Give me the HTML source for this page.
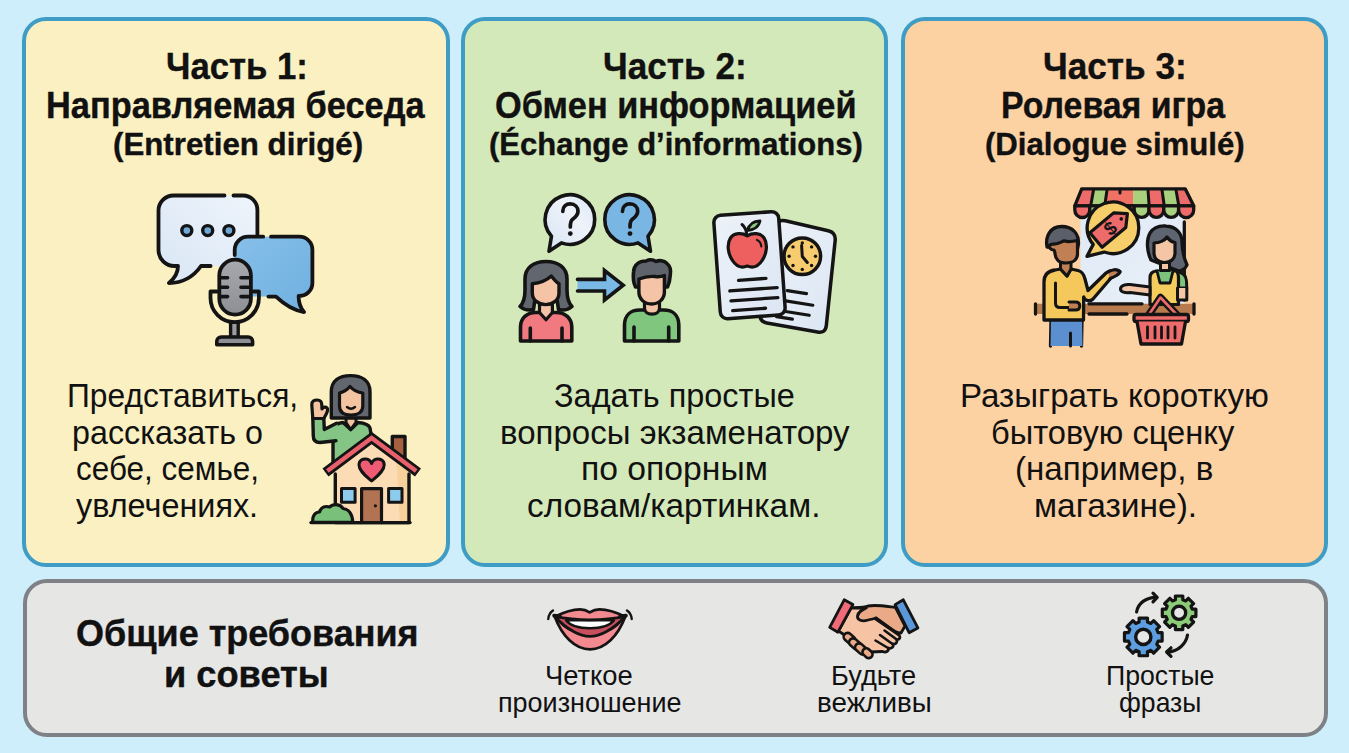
<!DOCTYPE html>
<html><head><meta charset="utf-8"><style>
html,body{margin:0;padding:0;}
body{width:1349px;height:753px;position:relative;overflow:hidden;background:#cdeefa;font-family:"Liberation Sans",sans-serif;color:#111;}
.card{position:absolute;box-sizing:border-box;border:4px solid #3f9cc4;border-radius:24px;}
.t{position:absolute;white-space:nowrap;line-height:1;transform-origin:0 0;}
.b{-webkit-text-stroke:0.4px #111;}
svg{position:absolute;overflow:visible;}
</style></head><body>
<div class="card" style="left:22px;top:17px;width:427.5px;height:549.5px;background:#faf0c1;"></div>
<div class="card" style="left:461px;top:17px;width:427px;height:549.5px;background:#d4e9b9;"></div>
<div class="card" style="left:901px;top:17px;width:427px;height:549.5px;background:#fdd2a3;"></div>
<div class="card" style="left:22.5px;top:578.5px;width:1305.5px;height:158.5px;background:#e6e6e5;border-color:#7e8185;"></div>
<div class="t b" style="left:165.75px;top:48.26px;font-size:37.5px;font-weight:700;transform:scaleX(0.9259)">Часть 1:</div>
<div class="t b" style="left:45.87px;top:87.46px;font-size:37.5px;font-weight:700;transform:scaleX(0.9161)">Направляемая беседа</div>
<div class="t b" style="left:112.52px;top:127.91px;font-size:32px;font-weight:700;transform:scaleX(0.9770)">(Entretien dirigé)</div>
<div class="t b" style="left:603.13px;top:48.26px;font-size:37.5px;font-weight:700;transform:scaleX(0.9374)">Часть 2:</div>
<div class="t b" style="left:494.88px;top:87.46px;font-size:37.5px;font-weight:700;transform:scaleX(0.9153)">Обмен информацией</div>
<div class="t b" style="left:488.83px;top:127.91px;font-size:32px;font-weight:700;transform:scaleX(0.9689)">(Échange d’informations)</div>
<div class="t b" style="left:1043.12px;top:48.26px;font-size:37.5px;font-weight:700;transform:scaleX(0.9381)">Часть 3:</div>
<div class="t b" style="left:1000.90px;top:87.46px;font-size:37.5px;font-weight:700;transform:scaleX(0.9021)">Ролевая игра</div>
<div class="t b" style="left:985.03px;top:127.91px;font-size:32px;font-weight:700;transform:scaleX(0.9734)">(Dialogue simulé)</div>
<div class="t" style="left:66.55px;top:380.29px;font-size:32.5px;font-weight:400;transform:scaleX(0.9764)">Представиться,</div>
<div class="t" style="left:71.81px;top:416.69px;font-size:32.5px;font-weight:400;transform:scaleX(0.9926)">рассказать о</div>
<div class="t" style="left:75.53px;top:453.49px;font-size:32.5px;font-weight:400;transform:scaleX(0.9682)">себе, семье,</div>
<div class="t" style="left:75.50px;top:490.29px;font-size:32.5px;font-weight:400;transform:scaleX(0.9967)">увлечениях.</div>
<div class="t" style="left:554.00px;top:380.29px;font-size:32.5px;font-weight:400;transform:scaleX(0.9982)">Задать простые</div>
<div class="t" style="left:499.67px;top:416.69px;font-size:32.5px;font-weight:400;transform:scaleX(1.0168)">вопросы экзаменатору</div>
<div class="t" style="left:580.53px;top:453.49px;font-size:32.5px;font-weight:400;transform:scaleX(1.0371)">по опорным</div>
<div class="t" style="left:526.67px;top:490.29px;font-size:32.5px;font-weight:400;transform:scaleX(1.0268)">словам/картинкам.</div>
<div class="t" style="left:960.46px;top:380.29px;font-size:32.5px;font-weight:400;transform:scaleX(1.0199)">Разыграть короткую</div>
<div class="t" style="left:991.00px;top:416.69px;font-size:32.5px;font-weight:400;transform:scaleX(1.0046)">бытовую сценку</div>
<div class="t" style="left:1014.96px;top:453.49px;font-size:32.5px;font-weight:400;transform:scaleX(1.0197)">(например, в</div>
<div class="t" style="left:1033.54px;top:490.29px;font-size:32.5px;font-weight:400;transform:scaleX(1.0313)">магазине).</div>
<div class="t b" style="left:75.92px;top:615.85px;font-size:36.8px;font-weight:700;transform:scaleX(0.9777)">Общие требования</div>
<div class="t b" style="left:163.63px;top:656.85px;font-size:36.8px;font-weight:700;transform:scaleX(0.9845)">и советы</div>
<div class="t" style="left:545.31px;top:661.52px;font-size:27.5px;font-weight:400;transform:scaleX(0.9949)">Четкое</div>
<div class="t" style="left:498.02px;top:688.92px;font-size:27.5px;font-weight:400;transform:scaleX(0.9804)">произношение</div>
<div class="t" style="left:830.72px;top:661.52px;font-size:27.5px;font-weight:400;transform:scaleX(0.9882)">Будьте</div>
<div class="t" style="left:816.99px;top:688.92px;font-size:27.5px;font-weight:400;transform:scaleX(1.0118)">вежливы</div>
<div class="t" style="left:1105.86px;top:661.52px;font-size:27.5px;font-weight:400;transform:scaleX(0.9702)">Простые</div>
<div class="t" style="left:1119.33px;top:688.92px;font-size:27.5px;font-weight:400;transform:scaleX(0.9659)">фразы</div>
<svg width="1349" height="753" viewBox="0 0 1349 753" style="left:0;top:0"><g id="ic1" stroke="#141414" stroke-width="3.8" stroke-linecap="round" stroke-linejoin="round">
 <defs>
  <linearGradient id="gl1" x1="0" y1="1" x2="1" y2="0"><stop offset="0" stop-color="#d9e6f5"/><stop offset="1" stop-color="#eef4fb"/></linearGradient>
  <linearGradient id="gr1" x1="0" y1="0" x2="1" y2="1"><stop offset="0" stop-color="#86bfe9"/><stop offset="1" stop-color="#6fb0e0"/></linearGradient>
  <linearGradient id="gm1" x1="0" y1="0" x2="0" y2="1"><stop offset="0" stop-color="#a7a9ae"/><stop offset="1" stop-color="#8d8f95"/></linearGradient>
 </defs>
 <!-- left bubble -->
 <path d="M224.5 195.5 H173.5 A15 15 0 0 0 158.5 210.5 V250 A16 16 0 0 0 174.5 266 H178 C178 272 175 278 169 283 C184 283 194 276 201 266 H211 L257.4 266 V210 A14.4 14.4 0 0 0 243 195.5 H233.5" fill="url(#gl1)" stroke="none"/>
 <path d="M224.5 195.5 H173.5 A15 15 0 0 0 158.5 210.5 V250 A16 16 0 0 0 174.5 266 H178 C178 272 175 278 169 283 C184 283 194 276 201 266 H210.6" fill="none"/>
 <path d="M233.5 195.5 H243 A14.4 14.4 0 0 1 257.4 210 V236" fill="none"/>
 <!-- dots -->
 <circle cx="186.8" cy="230.6" r="5" fill="#6fa8d8" stroke-width="3.4"/>
 <circle cx="207.7" cy="230.6" r="5" fill="#6fa8d8" stroke-width="3.4"/>
 <circle cx="228.9" cy="230.6" r="5" fill="#6fa8d8" stroke-width="3.4"/>
 <!-- right bubble -->
 <path d="M248 236.7 H299.4 A13 13 0 0 1 312.4 249.7 V283 A13 13 0 0 1 299.4 296 H298.6 C298.6 302 300.5 308 304 312 C297 311 286 306 276 296.6 H248 A13.3 13.3 0 0 1 234.7 283.3 V250 A13.3 13.3 0 0 1 248 236.7 Z" fill="url(#gr1)" stroke="none"/>
 <path d="M263.2 236.7 H248 A13.3 13.3 0 0 0 234.7 250 V255" fill="none"/>
 <path d="M271 236.7 H299.4 A13 13 0 0 1 312.4 249.7 V283 A13 13 0 0 1 299.4 296 H298.6 C298.6 302 300.5 308 304 312 C297 311 286 306 276 296.6 H268.4" fill="none"/>
 <!-- mic holder -->
 <path d="M217 291.5 H210.5 V298 A24.2 24.2 0 0 0 258.9 298 V291.5 H253.5" fill="none"/>
 <!-- stem -->
 <rect x="230.6" y="322.4" width="7.6" height="15" fill="#9a9ca1" stroke-width="3.4"/>
 <!-- base -->
 <path d="M216.8 344.8 V341.5 A4.5 4.5 0 0 1 221.3 337 H248.1 A4.5 4.5 0 0 1 252.6 341.5 V344.8 Z" fill="#8d8f94" stroke-width="3.6"/>
 <!-- head -->
 <rect x="219.3" y="259.7" width="31.6" height="54.9" rx="15.8" fill="url(#gm1)"/>
 <path d="M219.8 277.7 H227.6 M219.8 287.2 H227.6 M219.8 296.6 H227.6 M241 277.7 H250.2 M241 287.2 H250.2 M241 296.6 H250.2" stroke-width="3.6"/>
</g>

<g id="ic1b" stroke="#141414" stroke-width="3.4" stroke-linecap="round" stroke-linejoin="round">
 <!-- woman body (green) -->
 <path d="M333 462 V432 C333 426 337 423 343 422.5 L350.7 429.6 L358 422.5 C364 423 369 425 370 428 L372 440 L335 468 Z" fill="#84c585"/>
 <!-- arm -->
 <path d="M312.8 418 H323.8 L324.3 429.5 L337.5 422.8 L339 441 L320 442.5 C315.5 442.5 313.3 440 313.3 436 Z" fill="#84c585" stroke="none"/>
 <path d="M323.8 418 L324.3 429.5 L336.5 423.3 M336 440.7 L320 442.5 C315.5 442.5 313.3 440 313.3 436 L312.8 418" fill="none"/>
 <!-- hand -->
 <path d="M312.8 418.5 L311.8 405 C311.5 401 314.2 400 317.2 400 C320.2 400 321.8 402 321.8 405 L322 408.8 C323.5 406.5 327 406.5 327.6 409.2 C328 411.5 326 414.5 323.8 418.5 Z" fill="#f4c3a2" stroke-width="3.2"/>
 <!-- neck -->
 <path d="M346 413 V422.5 L350.7 429.6 L356 422.5 V413 Z" fill="#f4c3a2" stroke-width="3"/>
 <!-- hair -->
 <path d="M331.3 418 V392 C331.3 381 339 375.6 350.5 375.6 C362 375.6 370 381 370 392 V418 Z" fill="#62666e"/>
 <!-- face -->
 <path d="M339.5 393 C343.5 392 347 390 350 386.5 C353.5 390.5 358 392.5 362.8 393 V406 C362.8 412 358 415 351 415 C344 415 339.5 412 339.5 406 Z" fill="#f4c3a2" stroke-width="3.2"/>
 <path d="M347 407 Q351 410.5 355 407" fill="none" stroke-width="2.4"/>
 <!-- house walls -->
 <path d="M335 472 L371.6 442 L408.5 472 V522.6 H335 Z" fill="#fbdcb4" stroke="none"/>
 <path d="M396 452 L408.5 462 V522.6 H400 Z" fill="#f6cd95" stroke="none" opacity="0.8"/>
 <path d="M335.3 474 V522.6 H409 V474" fill="none"/>
 <!-- chimney -->
 <path d="M392.3 453 V436.5 H405 V462" fill="#a6603f"/>
 <!-- roof -->
 <path d="M325.5 472.5 L371.6 438 L418 472.5" fill="none" stroke-width="10" stroke-linecap="butt" stroke-linejoin="miter"/>
 <path d="M327.3 471.1 L371.6 438 L416.2 471.1" fill="none" stroke="#e8606c" stroke-width="4.4" stroke-linecap="butt" stroke-linejoin="miter"/>
 <!-- heart -->
 <path d="M371.6 481 C366 476 359 471 359 465 C359 460 363 458.8 366 459 C369 459.2 370.6 461 371.6 463.5 C372.6 461 374.2 459.2 377.2 459 C380.2 458.8 384.2 460 384.2 465 C384.2 471 377.2 476 371.6 481 Z" fill="#ee5b72" stroke-width="3"/>
 <!-- windows -->
 <rect x="341.5" y="488.6" width="13.6" height="13.6" fill="#8ccbee" stroke-width="3"/>
 <rect x="388.6" y="488.6" width="13.4" height="13.6" fill="#8ccbee" stroke-width="3"/>
 <!-- door -->
 <path d="M361.6 522.6 V488.6 H381.5 V522.6" fill="#b27352" stroke-width="3.2"/>
 <circle cx="375.4" cy="505.8" r="1.6" fill="#141414" stroke="none"/>
 <!-- bush -->
 <path d="M312.8 522.4 C312 516 315 512 319.5 512 C321 507.5 325 505.6 329.5 507 C333 503.5 340 503.5 343 508.5 C348.5 509 352.5 514 352.8 522.4 Z" fill="#79c17b" stroke-width="3.2"/>
 <path d="M311 522.6 H410" fill="none" stroke-width="3.4"/>
</g>

<g id="ic2" stroke="#141414" stroke-width="3.6" stroke-linecap="round" stroke-linejoin="round">
 <defs>
  <linearGradient id="gb1" x1="0" y1="1" x2="1" y2="0"><stop offset="0" stop-color="#d5e3f4"/><stop offset="0.6" stop-color="#eef3fa"/><stop offset="1" stop-color="#dde8f5"/></linearGradient>
 </defs>
 <!-- bubble 1 -->
 <path d="M551.47 236.19 A24.8 24.8 0 1 1 561.42 242.90 L549 251.2 Z" fill="url(#gb1)"/>
 <!-- bubble 2 -->
 <path d="M638.08 242.90 A24.8 24.8 0 1 1 648.03 236.19 L650.5 251.2 Z" fill="#79b6e3"/>
 <!-- question marks -->
 <path d="M562.8 211.3 C562.8 206.5 566 203.9 570.3 203.9 C574.8 203.9 578 207 578 211.3 C578 215.5 575 217.5 572.6 219.3 C570.8 220.7 570.3 222.5 570.3 227" fill="none" stroke-width="3.7"/>
 <circle cx="570.3" cy="233.6" r="2.4" fill="#141414" stroke="none"/>
 <path d="M622.5 211.3 C622.5 206.5 625.7 203.9 630 203.9 C634.5 203.9 637.7 207 637.7 211.3 C637.7 215.5 634.7 217.5 632.3 219.3 C630.5 220.7 630 222.5 630 227" fill="none" stroke-width="3.7"/>
 <circle cx="630" cy="233.6" r="2.4" fill="#141414" stroke="none"/>
 <!-- woman -->
 <path d="M520 306.5 C523.5 303 525 297 525 290 V279 C525 267.5 534 261.5 546 261.5 C558 261.5 567 267.5 567 279 V290 C567 297 568.5 303 572 306.5 C568.5 309.5 563 310.5 558.5 309.5 L557 299 H535 L533.5 309.5 C529 310.5 523.5 309.5 520 306.5 Z" fill="#62666f"/>
 <path d="M520.5 341 V327 C520.5 318 527 312.5 536 312.5 H556 C565 312.5 571.8 318 571.8 327 V341 Z" fill="#f07a80"/>
 <path d="M530.3 328 V341 M562 328 V341" fill="none"/>
 <path d="M539.5 304 V312.5 L546 319.8 L552.4 312.5 V304 Z" fill="#f4c2a6" stroke-width="3.2"/>
 <path d="M532.3 283.7 C540 283 547 280 551.3 276 C554 279.5 556 282 559 283.7 V293 C559 300 553 304.6 545.7 304.6 C538.4 304.6 532.3 300 532.3 293 Z" fill="#f5c3a6" stroke-width="3.4"/>
 <!-- arrow -->
 <path d="M577.5 279.4 H604.5 V270.5 L623.2 285.2 L604.5 300 V291 H577.5 Z" fill="#7ab8e5" stroke="none"/>
 <path d="M577.5 279.4 H604.5 V270.5 L623.2 285.2 L604.5 300 V291 H577.5" fill="none" stroke-linejoin="miter"/>
 <!-- man -->
 <path d="M624.5 341 V325 C624.5 315.5 630.5 310 640 310 H663.5 C673 310 678.8 315.5 678.8 325 V341 Z" fill="#80c67f"/>
 <path d="M634 327 V341 M668.7 327 V341" fill="none"/>
 <path d="M644.5 302 V308 C644.5 312 647.5 314.2 652 314.2 C656.5 314.2 659.5 312 659.5 308 V302 Z" fill="#f4c2a6" stroke-width="3.2"/>
 <path d="M635.5 287 C633.5 283 633 277 633.5 272 C634 265 639 261 646 261 C649 259.5 653 259.5 656 261.5 C659 260 664 260.5 667 263.5 C670.5 266.5 671 271 670.3 275 C670 280 669 284 667.5 287 Z" fill="#5f636c"/>
 <path d="M638.9 279 C644 277 650 276 655 276.5 C659 277 662 276.5 664.4 275.5 V292 C664.4 299 659 304 651.6 304 C644.3 304 638.9 299 638.9 292 Z" fill="#f5c3a6" stroke-width="3.4"/>
</g>

<g id="ic2b" stroke="#141414" stroke-width="3.5" stroke-linecap="round" stroke-linejoin="round">
 <defs>
  <linearGradient id="gcard" x1="0" y1="0" x2="1" y2="1"><stop offset="0" stop-color="#edf2f9"/><stop offset="1" stop-color="#dbe6f3"/></linearGradient>
 </defs>
 <!-- back card -->
 <path d="M785.30 220.80 L828.20 230.70 Q836.00 232.50 835.17 240.46 L826.33 325.54 Q825.50 333.50 817.63 332.08 L766.87 322.92 Q759.00 321.50 760.42 313.63 L776.08 226.87 Q777.50 219.00 785.30 220.80 Z" fill="url(#gcard)"/>
 <g transform="rotate(9 797.6 277.2)"><path d="M789.5 292 H809 M789.5 302.5 H817 M789.5 313 H815 M783 319.5 H799" fill="none" stroke-width="3.2"/></g>
 <!-- clock -->
 <circle cx="802.3" cy="256.2" r="18.3" fill="#f6cc6e"/>
 <g fill="#141414" stroke="none"><circle cx="802.3" cy="243.0" r="1.7"/><circle cx="811.6" cy="246.9" r="1.7"/><circle cx="815.5" cy="256.2" r="1.7"/><circle cx="811.6" cy="265.5" r="1.7"/><circle cx="802.3" cy="269.4" r="1.7"/><circle cx="793.0" cy="265.5" r="1.7"/><circle cx="789.1" cy="256.2" r="1.7"/><circle cx="793.0" cy="246.9" r="1.7"/></g>
 <path d="M801.6 245.5 L802.3 256.5 L807.3 262.5" fill="none" stroke-width="3"/>
 <!-- front card -->
 <g transform="rotate(-4.1 749.5 265.2)">
  <rect x="717" y="213.4" width="65" height="103.6" rx="7" fill="url(#gcard)"/>
  <path d="M737.5 279.5 H765 M728 289.5 H775.5 M728.5 299.5 H775.5 M729.5 309.3 H762.5" fill="none" stroke-width="3.3"/>
 </g>
 <!-- apple -->
 <path d="M747.3 235.8 C742 232.5 734 232.8 730.5 238 C726.5 244 728 254 732.5 260.5 C736 266 741 268.5 747.3 266 C753.6 268.5 758.6 266 762.1 260.5 C766.6 254 768.1 244 764.1 238 C760.6 232.8 752.6 232.5 747.3 235.8 Z" fill="#ee5f5f" stroke-width="3.2"/>
 <path d="M757 240 C759.5 241 761 243.5 761.3 246.5" fill="none" stroke-width="2.2"/>
 <path d="M746.8 235 C746.5 230 745 227 742 224.5" fill="none" stroke-width="3"/>
 <path d="M747.3 230.5 C749 224.5 754 221 760 220.8 C759 226.5 754 230.2 747.3 230.5 Z" fill="#8cc77e" stroke-width="2.8"/>
</g>

<g id="ic3" stroke="#141414" stroke-width="3.3" stroke-linecap="round" stroke-linejoin="round">
 <defs>
  <linearGradient id="gwin" x1="0" y1="0" x2="1" y2="1"><stop offset="0" stop-color="#dfeaf6"/><stop offset="1" stop-color="#e9f0f8"/></linearGradient>
  <clipPath id="awclip"><path d="M1081.7 188.8 H1185.2 L1193.7 205.8 H1074.8 Z"/></clipPath>
 </defs>
 <!-- shop window -->
 <rect x="1080.5" y="210" width="104" height="94" fill="url(#gwin)" stroke="none"/>
 <path d="M1184.3 222 V262 M1184.3 268 V300" fill="none"/>
 <!-- awning stripes -->
 <g clip-path="url(#awclip)" stroke="none">
  <path d="M1070 186 H1093.5 L1089 208 H1070 Z" fill="#ee6b6b"/>
  <path d="M1093.5 186 H1107 L1104 208 H1089 Z" fill="#a9d07c"/>
  <path d="M1107 186 H1133.5 L1133 208 H1104 Z" fill="#f07265"/>
  <path d="M1133.5 186 H1148 L1149 208 H1133 Z" fill="#a9d07c"/>
  <path d="M1148 186 H1162 L1164 208 H1149 Z" fill="#ee6b6b"/>
  <path d="M1162 186 H1176 L1179 208 H1164 Z" fill="#a9d07c"/>
  <path d="M1176 186 H1200 V208 H1179 Z" fill="#ee6b6b"/>
 </g>
 <path d="M1093.5 190 L1091 204 M1107 190 L1105 204 M1120 190 V193 M1148 190 L1149 204 M1162 190 L1164 204 M1176 190 L1178.5 204" fill="none" stroke-width="3"/>
 <path d="M1074.8 205.8 L1081.7 188.8 H1185.2 L1193.7 205.8 Z" fill="none"/>
 <!-- scallops -->
 <g>
  <path d="M1074.8 205.8 H1089.8 V210 A7.5 7.5 0 0 1 1074.8 210 Z" fill="#ee6b6b"/>
  <path d="M1089.8 205.8 H1104.6 V210 A7.4 7.4 0 0 1 1089.8 210 Z" fill="#a9d07c"/>
  <path d="M1104.6 205.8 H1119.4 V210 A7.4 7.4 0 0 1 1104.6 210 Z" fill="#ee6b6b"/>
  <path d="M1119.4 205.8 H1134.2 V210 A7.4 7.4 0 0 1 1119.4 210 Z" fill="#ee6b6b"/>
  <path d="M1134.2 205.8 H1149 V210 A7.4 7.4 0 0 1 1134.2 210 Z" fill="#a9d07c"/>
  <path d="M1149 205.8 H1163.8 V210 A7.4 7.4 0 0 1 1149 210 Z" fill="#ee6b6b"/>
  <path d="M1163.8 205.8 H1178.6 V210 A7.4 7.4 0 0 1 1163.8 210 Z" fill="#a9d07c"/>
  <path d="M1178.6 205.8 H1193.7 V210 A7.5 7.5 0 0 1 1178.6 210 Z" fill="#ee6b6b"/>
 </g>
 <!-- speech bubble -->
 <path d="M1093.24 244.38 A25.8 25.8 0 1 1 1104.18 252.04 L1087 256.3 Z" fill="#f7cf6a"/>
 <!-- price tag -->
 <g transform="translate(1.3 -2.8) rotate(-40 1110 230)">
  <path d="M1090 220.5 H1121 L1131 230 L1121 239.5 H1090 Z" fill="#ee6b6b" stroke-width="3.2"/>
  <circle cx="1123" cy="230" r="1.8" fill="#141414" stroke="none"/>
 </g>
 <text x="1109.5" y="237.5" font-family="Liberation Sans" font-weight="700" font-size="19" fill="#141414" stroke="none" text-anchor="middle" transform="translate(1.3 -2.8) rotate(-40 1109.5 231.5)">$</text>
 <!-- counter -->
 <path d="M1035.5 303.8 H1194 V314 H1035.5 Z" fill="#b87b4e" stroke="none"/>
 <path d="M1035.5 303.8 V314 M1089 303.8 H1142 M1089 314 H1127 M1194 303.8 V314" fill="none"/>
 <!-- man -->
 <path d="M1051 321 L1050.5 346 M1082 321 L1081.5 346" fill="none"/>
 <path d="M1051 320 H1082 L1082.5 346 H1050.5 Z" fill="#5b8fd0" stroke="none"/>
 <path d="M1070.5 333 V346" fill="none" stroke-width="3"/>
 <path d="M1044 320 V282 C1044 275 1048 271 1055 270 L1060.5 269 L1067 276 L1071 269 L1078 270.5 C1082 271.5 1084 274.5 1085 279 L1088 290.5 L1106 273 C1110 269.5 1118 269 1120 272 C1119 275 1114 276 1111 278 L1093 299 C1090 302 1085 301 1083.7 297 L1083.5 320 Z" fill="#f5c85c"/>
 <path d="M1055.5 283 V303 C1055.5 306 1057 307.5 1060 307.5 H1070" fill="none" stroke-width="3"/>
 <path d="M1069 302 H1075.5 C1078.5 302 1079.8 304 1079.8 306 C1079.8 308 1078.5 310 1075.5 310 H1069" fill="#c17f56" stroke-width="3"/>
 <path d="M1108 272 C1112 269.5 1117 269 1120 271.5 C1118.5 275 1114 277 1110 278.5" fill="#c17f56" stroke-width="3"/>
 <path d="M1060.5 262 V269 L1067 276 L1071 269 V262 Z" fill="#c17f56" stroke-width="3"/>
 <path d="M1047 247 C1045 237 1050 226.5 1061.5 226.5 C1073 226.5 1079 234 1078.5 244 L1077.5 249 Z" fill="#5a5f6a"/>
 <path d="M1053 244 C1058 244.5 1061 242 1064 240.8 C1068 242.5 1073 241.5 1077.5 240.5 V254 C1077.5 259.5 1073 263 1066 263 C1059 263 1055 259 1055 253 L1054 250 C1050.5 250 1049 247.5 1049.5 245 Z" fill="#c17f56" stroke-width="3.2"/>
 <!-- woman -->
 <path d="M1151 260 C1147 252 1146 240 1150 233 C1154 227 1160 225.5 1166 226 C1176 226.5 1182 233 1182 242 C1182 252 1184 258 1187 265 C1185 270 1180 272 1176 270 Z" fill="#5e6470"/>
 <path d="M1176.5 272 C1182 272 1186 275 1186.5 281 L1186.8 288 H1176.5 Z" fill="#7cc47c" stroke-width="3"/>
 <path d="M1150 304.5 V278 C1150 274 1152 271.5 1156 271 H1176 C1177.5 272 1178.5 274 1178.5 278 V304.5 Z" fill="#f5cc5e" stroke-width="3.2"/>
 <path d="M1157 271 L1160 283 H1170 L1173 271" fill="#7cc47c" stroke-width="2.8"/>
 <path d="M1160.5 262 V270.5 H1169.5 V262 Z" fill="#f5c6a6" stroke-width="3"/>
 <path d="M1154 243 C1160 243 1165 240 1167 237 C1169 240 1172 242 1175 242.5 V253 C1175 259 1170.5 262.5 1164.5 262.5 C1158.5 262.5 1154 259 1154 253 Z" fill="#f5c6a6" stroke-width="3.2"/>
 <path d="M1150 287 L1130 284.5 C1125 284 1120.5 286 1120.5 289 C1120.5 292 1125 293 1130 292.5 L1150 295 Z" fill="#f5c6a6" stroke-width="3"/>
 <path d="M1177.5 288 V300 H1186.8 V288" fill="#f5c6a6" stroke-width="3"/>
 <!-- basket -->
 <path d="M1148 316 L1160.5 297.5 L1178 316" fill="none" stroke="#141414" stroke-width="7.5" stroke-linejoin="round"/>
 <path d="M1148 316 L1160.5 297.5 L1178 316" fill="none" stroke="#ee6b6b" stroke-width="2.6" stroke-linejoin="round"/>
 <rect x="1134" y="314.5" width="54.5" height="7" rx="2" fill="#ee6b6b"/>
 <path d="M1137 321.5 L1141 344 H1181.5 L1185.5 321.5" fill="#ee6b6b"/>
 <path d="M1147.5 327 V338 M1155 327 V338 M1161.5 327 V338 M1168 327 V338 M1175 327 V338" fill="none" stroke-width="2.8"/>
</g>

<g id="lips" stroke="#141414" stroke-width="2.7" stroke-linecap="round" stroke-linejoin="round">
 <path d="M554.8 616.7 C562 636 575 649.3 590 649.3 C605 649.3 618 636 625.2 616.7 Z" fill="#f28a8f"/>
 <path d="M554.8 616.7 C566 628 577 636.3 590 636.3 C603 636.3 614 628 625.2 616.7 Z" fill="#c8505e"/>
 <path d="M556 617.5 C561 624 566 628.5 572 630.5" fill="none" stroke-width="2.2"/>
 <path d="M608 630.5 C614 628.5 619 624 624 617.5" fill="none" stroke-width="2.2"/>
 <path d="M566 620.3 C570.5 626 579 628.3 590 628.3 C601 628.3 609.5 626 614 620.3 Z" fill="#ffffff" stroke-width="2.4"/>
 <path d="M554.8 616.7 C564 612 572 609.3 580 609.3 C584 609.3 587 610.5 589.7 612.3 C592.5 610.5 595.5 609.3 599.5 609.3 C607.5 609.3 616 612 625.2 616.7 C613 619 602 619.8 590 619.8 C578 619.8 567 619 554.8 616.7 Z" fill="#f28a8f"/>
 <path d="M554 615.5 L560 616.3" fill="none" stroke-width="3.6"/>
 <path d="M620 616.3 L626 615.5" fill="none" stroke-width="3.6"/>
 <path d="M553 610.5 C550 612.5 548.5 615.5 548.3 619" fill="none" stroke-width="2.4"/>
 <path d="M627 610.5 C630 612.5 631.5 615.5 631.7 619" fill="none" stroke-width="2.4"/>
</g>
<g id="hand" stroke="#141414" stroke-width="2.8" stroke-linecap="round" stroke-linejoin="round">
 <!-- back hand (right person, darker skin) -->
 <path d="M851 608 C858 607.5 864 607.5 868 606 C876 604.5 884 606 895.5 607.5 L905 626 L901 633 C896 633 893 631 888 627 L876 618 C872 620 866 622 861 621 C857 620 856 617 858.5 614 Z" fill="#eaaa88"/>
 <!-- front hand (left person) -->
 <path d="M851 608 L866.5 607.8 C862 610 858 612 857.5 616 C857 620 862 622 868 620 L875 618.5 L899 635 C901 637.5 899.5 640 896.5 639.5 C898 642 896 644.5 893 644 C894 647 891.5 649 888.5 648 C889 651 886 653 882.5 651.5 L870 652 C862 650 852 641 847.5 637 L838.5 631 Z" fill="#f6c4a5"/>
 <path d="M876 618 L899 634.5" fill="none"/>
 <path d="M884.5 630.5 L896 639 M880 635 L892.5 644 M875.5 640.5 L888 648" fill="none" stroke-width="2.6"/>
 <!-- fingers bottom-left -->
 <g fill="#eaaa88" stroke-width="2.6">
  <rect x="-6.5" y="-4" width="13" height="8" rx="4" transform="translate(849.5 638.5) rotate(42)"/>
  <rect x="-6.5" y="-4" width="13" height="8" rx="4" transform="translate(855 644) rotate(42)"/>
  <rect x="-6.5" y="-4" width="13" height="8" rx="4" transform="translate(861 649) rotate(42)"/>
  <rect x="-5.5" y="-3.8" width="11" height="7.6" rx="3.8" transform="translate(867.5 653.2) rotate(42)"/>
 </g>
 <!-- cuffs -->
 <path d="M844.2 599.8 L852.9 604.6 L837.9 632.2 L829.7 627.4 Z" fill="#f06a78"/>
 <path d="M903.3 599.8 L917.9 627.9 L909.1 632.7 L895.1 604.6 Z" fill="#5a97d8"/>
</g>
<g id="gears" stroke="#141414" stroke-width="3.2" stroke-linecap="round" stroke-linejoin="round">
 <path d="M1175.41 599.71 L1175.35 596.01 L1182.85 596.01 L1182.79 599.71 L1185.75 600.93 L1188.32 598.28 L1193.62 603.58 L1190.97 606.15 L1192.19 609.11 L1195.89 609.05 L1195.89 616.55 L1192.19 616.49 L1190.97 619.45 L1193.62 622.02 L1188.32 627.32 L1185.75 624.67 L1182.79 625.89 L1182.85 629.59 L1175.35 629.59 L1175.41 625.89 L1172.45 624.67 L1169.88 627.32 L1164.58 622.02 L1167.23 619.45 L1166.01 616.49 L1162.31 616.55 L1162.31 609.05 L1166.01 609.11 L1167.23 606.15 L1164.58 603.58 L1169.88 598.28 L1172.45 600.93 Z" fill="#8ccb78"/>
 <circle cx="1179.1" cy="612.8" r="6.6" fill="#e6e6e6" stroke-width="3.4"/>
 <path d="M1139.12 622.08 L1139.09 618.06 L1147.51 618.06 L1147.48 622.08 L1150.82 623.46 L1153.64 620.60 L1159.60 626.56 L1156.74 629.38 L1158.12 632.72 L1162.14 632.69 L1162.14 641.11 L1158.12 641.08 L1156.74 644.42 L1159.60 647.24 L1153.64 653.20 L1150.82 650.34 L1147.48 651.72 L1147.51 655.74 L1139.09 655.74 L1139.12 651.72 L1135.78 650.34 L1132.96 653.20 L1127.00 647.24 L1129.86 644.42 L1128.48 641.08 L1124.46 641.11 L1124.46 632.69 L1128.48 632.72 L1129.86 629.38 L1127.00 626.56 L1132.96 620.60 L1135.78 623.46 Z" fill="#5c9ee0"/>
 <circle cx="1143.3" cy="636.9" r="7.6" fill="#e6e6e6" stroke-width="3.4"/>
 <path d="M1136.6 612 C1138 603 1146 597.5 1156 597.3" fill="none" stroke-width="3.2"/>
 <path d="M1153 593.2 L1157.2 597.4 L1153 601.8" fill="none" stroke-width="3.2"/>
 <path d="M1187.5 635 C1186 644 1178 651.5 1167.5 652" fill="none" stroke-width="3.2"/>
 <path d="M1171 647.8 L1166.6 652 L1171 656.3" fill="none" stroke-width="3.2"/>
</g>
</svg>
</body></html>
